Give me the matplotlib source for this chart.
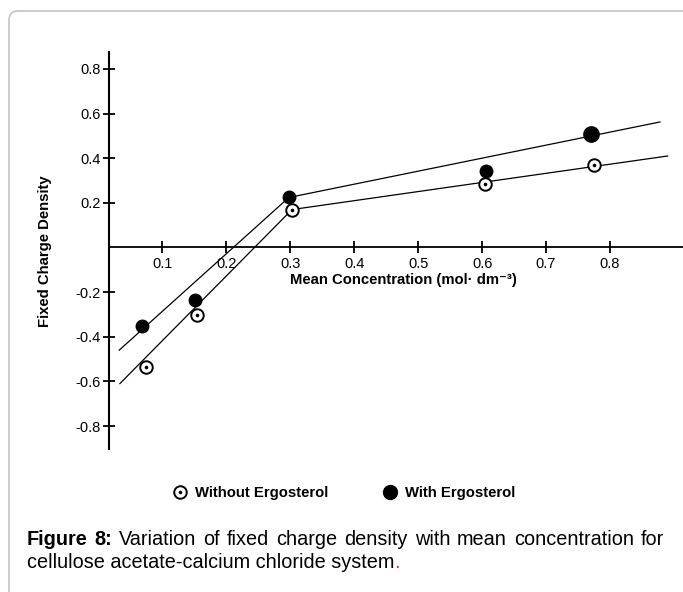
import matplotlib
matplotlib.use('Agg')
import matplotlib.pyplot as plt
from matplotlib.patches import FancyBboxPatch
from matplotlib.lines import Line2D
from matplotlib.legend_handler import HandlerTuple

plt.rcParams['font.family'] = ['Liberation Sans', 'DejaVu Sans']

# measured points
without_x = [0.075, 0.155, 0.303, 0.605, 0.775]
without_y = [-0.535, -0.304, 0.170, 0.286, 0.369]
with_x = [0.069, 0.152, 0.298, 0.606, 0.770]
with_y = [-0.354, -0.234, 0.224, 0.341, 0.508]

# drawn fit lines (two segments each)
without_fit_x = [0.034, 0.303, 0.890]
without_fit_y = [-0.610, 0.170, 0.410]
with_fit_x = [0.033, 0.298, 0.878]
with_fit_y = [-0.460, 0.224, 0.5625]

xticks = [0.1, 0.2, 0.3, 0.4, 0.5, 0.6, 0.7, 0.8]
yticks = [-0.8, -0.6, -0.4, -0.2, 0.2, 0.4, 0.6, 0.8]

W, H = 683, 592
fig = plt.figure(figsize=(W / 100, H / 100), dpi=100)

# frame of the figure panel
border = FancyBboxPatch((9, -30), 720, H - 11 + 30,
                        boxstyle="round,pad=0,rounding_size=9",
                        transform=None, fill=False, edgecolor='#c4c4c4', linewidth=1.2)
fig.add_artist(border)

ax = fig.add_axes([109 / W, 1 - 449 / H, (683 - 109) / W, (449 - 52) / H])
ax.set_xlim(0.017, 0.914)
ax.set_ylim(-0.903, 0.876)

ax.plot(without_fit_x, without_fit_y, color='black', lw=0.9, zorder=2)
ax.plot(with_fit_x, with_fit_y, color='black', lw=0.9, zorder=2)

ax.plot(with_x, with_y, 'o', color='black', ms=9, zorder=3)
ax.plot(with_x[-1:], with_y[-1:], 'o', color='black', ms=11, zorder=3)
ax.plot(without_x, without_y, 'o', mfc='white', mec='black', mew=1.4, ms=9, zorder=4)
ax.plot(without_x, without_y, 'o', color='black', ms=1.6, zorder=5)

for s in ['top', 'right']:
    ax.spines[s].set_visible(False)
ax.spines['bottom'].set_position(('data', 0))
ax.spines['left'].set_linewidth(1.5)
ax.spines['bottom'].set_linewidth(1.3)

ax.set_xticks(xticks)
ax.set_xticklabels([f'{v:.1f}' for v in xticks])
ax.set_yticks(yticks)
ax.set_yticklabels([f'{v:.1f}' for v in yticks])
ax.tick_params(axis='both', direction='inout', length=8, width=1.3, labelsize=10.5)
ax.tick_params(axis='x', pad=3)
ax.tick_params(axis='y', pad=2)

fig.text(403 / W, 1 - 280 / H, 'Mean Concentration (mol· dm⁻³)', ha='center', va='center',
         fontsize=10.7, fontweight='bold')
fig.text(45 / W, 1 - 251 / H, 'Fixed Charge Density', ha='center', va='center',
         rotation=90, fontsize=10.7, fontweight='bold')

# legend
h_open = Line2D([], [], marker='o', ls='', mfc='white', mec='black', mew=1.4, ms=9)
h_dot = Line2D([], [], marker='o', ls='', color='black', ms=1.6)
h_fill = Line2D([], [], marker='o', ls='', color='black', ms=10)
fig.legend([(h_open, h_dot), h_fill], ['Without Ergosterol', 'With Ergosterol'],
           handler_map={tuple: HandlerTuple(ndivide=1)},
           loc='center', bbox_to_anchor=(344 / W, 1 - 493 / H), ncol=2, frameon=False,
           prop={'weight': 'bold', 'size': 10.7}, handlelength=1.0, handletextpad=0.5,
           columnspacing=3.7)

# caption, first line justified
fig.canvas.draw()
r = fig.canvas.get_renderer()
x0, x1 = 27, 664
y1 = H - 545
y2 = H - 568
fs = 14.3
words = [('Figure', 'bold'), ('8:', 'bold'), ('Variation', 'normal'), ('of', 'normal'),
         ('fixed', 'normal'), ('charge', 'normal'), ('density', 'normal'), ('with', 'normal'),
         ('mean', 'normal'), ('concentration', 'normal'), ('for', 'normal')]
arts = []
for w, wt in words:
    t = fig.text(0, y1, w, fontsize=fs, fontweight=wt, va='baseline', ha='left', transform=None)
    arts.append(t)
widths = [a.get_window_extent(r).width for a in arts]
gap = (x1 - x0 - sum(widths)) / (len(words) - 1)
x = x0
for a, wd in zip(arts, widths):
    a.set_x(x)
    x += wd + gap
t2 = fig.text(x0, y2, 'cellulose acetate-calcium chloride system', fontsize=fs,
              va='baseline', ha='left', transform=None)
bb = t2.get_window_extent(r)
fig.text(bb.x1, y2, '.', fontsize=fs, color='#e0302a', va='baseline', ha='left',
         transform=None)

fig.savefig('out.png', dpi=100)
